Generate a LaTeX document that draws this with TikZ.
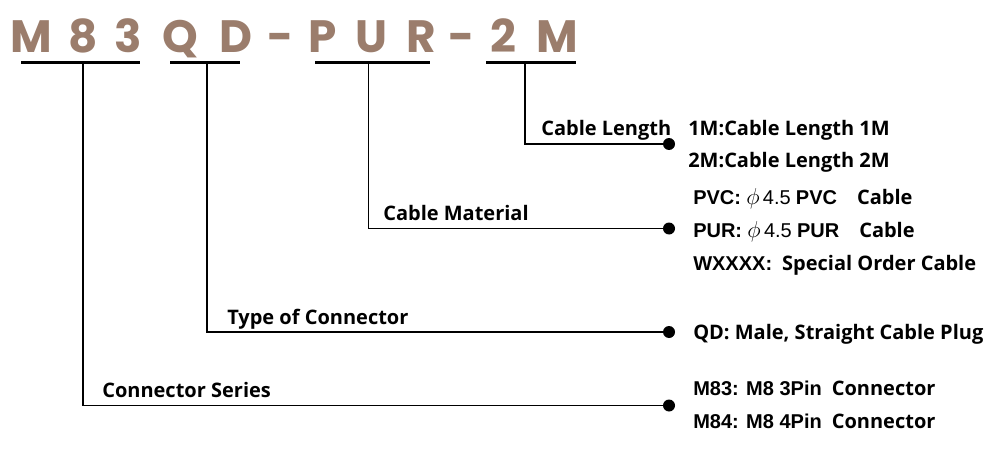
\documentclass[tikz,border=0pt]{standalone}
\usepackage{fontspec}
\setmainfont{Open Sans}
\newfontfamily\arialfont{Liberation Sans}
\newfontfamily\titlefont{Poppins}
\definecolor{codebrown}{RGB}{155,125,108}
\newcommand{\bigphi}{{\fontsize{18}{18}\selectfont$\phi$}}

\tikzset{
  codeletter/.style={anchor=base, inner sep=0pt, text=codebrown, font=\titlefont\bfseries\fontsize{34}{34}\selectfont},
  codebar/.style={line width=2.4pt},
  leader/.style={line width=0.8pt},
  enddot/.style={circle, fill=black, inner sep=0pt, minimum size=9pt},
  fieldlabel/.style={anchor=base west, inner sep=0pt, font=\bfseries\fontsize{15}{15}\selectfont},
  optiontext/.style={anchor=base west, inner sep=0pt, font=\bfseries\fontsize{15}{15}\selectfont}
}

\begin{document}
\begin{tikzpicture}[x=0.75pt,y=0.75pt,yscale=-1,xscale=1]
\path[use as bounding box] (0,0) rectangle (1000,467);

% Code letters
\node[codeletter] (cM1) at (31.5,53) {M};
\node[codeletter] (c8) at (83.5,53) {8};
\node[codeletter] (c3) at (128.5,53) {3};
\node[codeletter] (cQ) at (180.5,53) {Q};
\node[codeletter] (cD) at (235.5,53) {D};
\node[codeletter] (cdash1) at (280.5,53) {-};
\node[codeletter] (cP) at (322.5,53) {P};
\node[codeletter] (cU) at (371,53) {U};
\node[codeletter] (cR) at (421,53) {R};
\node[codeletter] (cdash2) at (461.5,53) {-};
\node[codeletter] (c2) at (503,53) {2};
\node[codeletter] (cM2) at (557,53) {M};

% Underlines
\draw[codebar] (21,62.5) -- (140,62.5);
\draw[codebar] (170,62.5) -- (240,62.5);
\draw[codebar] (315,62.5) -- (430,62.5);
\draw[codebar] (486,62.5) -- (576,62.5);

\coordinate (topSeries) at (83,63);
\coordinate (topType) at (207,63);
\coordinate (topMaterial) at (368.5,63);
\coordinate (topLength) at (525,63);

% Dots
\node[enddot] (dotLength) at (669,144) {};
\node[enddot] (dotMaterial) at (669,228.5) {};
\node[enddot] (dotType) at (669,332) {};
\node[enddot] (dotSeries) at (669,405.5) {};

% Leaders
\draw[leader] (topLength) |- (dotLength);
\draw[leader] (topMaterial) |- (dotMaterial);
\draw[leader] (topType) |- (dotType);
\draw[leader] (topSeries) |- (dotSeries);

% Field labels
\node[fieldlabel] (lblLength) at (541,135) {Cable Length};
\node[fieldlabel] (lblMaterial) at (383,220.5) {Cable Material};
\node[fieldlabel] (lblType) at (227,324) {Type of Connector};
\node[fieldlabel] (lblSeries) at (102,397) {Connector Series};

% Options
\node[optiontext] (opt1M) at (688,136) {1M:Cable Length 1M};
\node[optiontext] (opt2M) at (688,167) {2M:Cable Length 2M};
\node[optiontext] (optPVC) at (693,204) {{\arialfont PVC:} {\mdseries\bigphi\,\arialfont 4.5} {\arialfont PVC}\quad Cable};
\node[optiontext] (optPUR) at (693,237) {{\arialfont PUR:} {\mdseries\bigphi\,\arialfont 4.5} {\arialfont PUR}\quad Cable};
\node[optiontext] (optW) at (693,270) {{\arialfont WXXXX:}\enspace Special Order Cable};
\node[optiontext] (optQD) at (693,339) {QD: Male, Straight Cable Plug};
\node[optiontext] (optM83) at (693,395) {{\arialfont M83: M8 3Pin}\enspace Connector};
\node[optiontext] (optM84) at (693,428) {{\arialfont M84: M8 4Pin}\enspace Connector};

\end{tikzpicture}
\end{document}
